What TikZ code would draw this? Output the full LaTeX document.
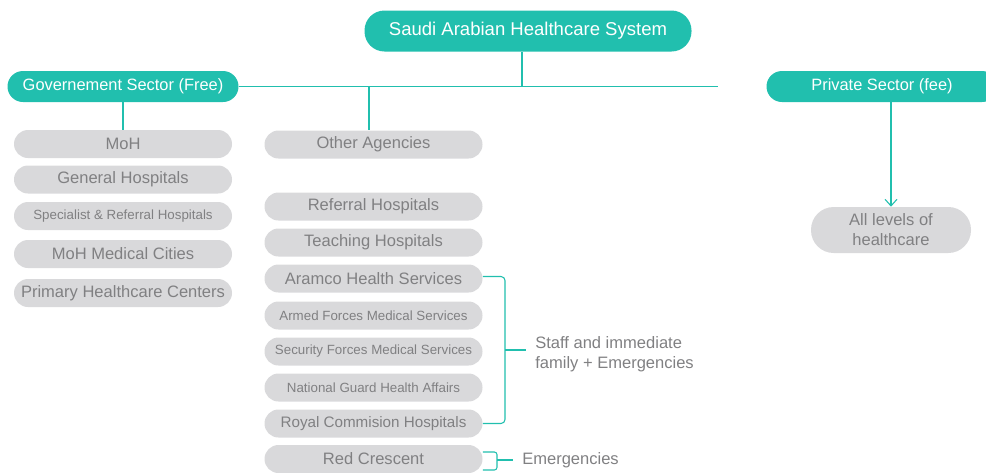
\documentclass[tikz,border=0pt]{standalone}
\usepackage{fontspec}
\setmainfont{Liberation Sans}
\usetikzlibrary{arrows.meta}
\definecolor{hcteal}{RGB}{33,191,174}
\definecolor{hcgrey}{RGB}{217,217,219}
\definecolor{hctext}{RGB}{128,128,130}
\begin{document}
\begin{tikzpicture}[x=0.75pt,y=-0.75pt]
            \tikzstyle{head}=[rounded corners=11.6pt, fill=hcteal, text=white, minimum width=173.25pt, minimum height=23.25pt, inner sep=0pt, font=\fontsize{12.3}{15}\selectfont]
            \tikzstyle{title}=[head, rounded corners=15pt, minimum width=245.25pt, minimum height=30.75pt, font=\fontsize{13.9}{16}\selectfont]
            \tikzstyle{unit}=[rounded corners=10.5pt, fill=hcgrey, text=hctext, minimum width=163.5pt, minimum height=21pt, inner sep=0pt, font=\fontsize{12.4}{15}\selectfont]
            \tikzstyle{smallunit}=[unit, font=\fontsize{10}{12}\selectfont]
            \tikzstyle{bigunit}=[unit, rounded corners=17pt, minimum width=120pt, minimum height=34.5pt, align=center]
            \tikzstyle{note}=[anchor=west, text=hctext, align=left, inner sep=0pt, font=\fontsize{12.4}{15}\selectfont]
            \tikzstyle{link}=[draw=hcteal, line width=0.8pt]
            \useasboundingbox (0,0) rectangle (986,472);
            \node[title] (sahs) at (528,31) {Saudi Arabian Healthcare System};
            \node[head] (gov) at (123,86.5) {Governement Sector (Free)};
            \node[head] (priv) at (882,86.5) {Private Sector (fee)};
            % ministry of health
            \node[unit] (moh) at (123,144) {MoH};
            \node[unit] (genhosp) at (123,179.5) {General Hospitals};
            \node[smallunit] (spec) at (123,216) {Specialist \& Referral Hospitals};
            \node[unit] (medcity) at (123,254) {MoH Medical Cities};
            \node[unit] (phc) at (123,293) {Primary Healthcare Centers};
            % other agencies
            \node[unit] (other) at (373.5,144.5) {Other Agencies};
            \node[unit] (referral) at (373.5,206.5) {Referral Hospitals};
            \node[unit] (teaching) at (373.5,242.5) {Teaching Hospitals};
            \node[unit] (aramco) at (373.5,278.5) {Aramco Health Services};
            \node[smallunit] (armed) at (373.5,315.5) {Armed Forces Medical Services};
            \node[smallunit] (security) at (373.5,351.5) {Security Forces Medical Services};
            \node[smallunit] (natguard) at (373.5,387.5) {National Guard Health Affairs};
            \node[unit, font=\fontsize{11.4}{14}\selectfont] (royal) at (373.5,423.5) {Royal Commision Hospitals};
            \node[unit] (redcres) at (373.5,459) {Red Crescent};
            % private
            \node[bigunit] (all) at (891,230) {All levels of\\healthcare};
            \coordinate (hub) at (522,86.5);
            \coordinate (hubend) at (718,86.5);
            \coordinate (split) at (369,86.5);
            \draw[link] (gov.east) -- (hubend);
            \draw[link] (sahs.south -| hub) -- (hub);
            \draw[link] (split) -- (split |- other.north);
            \draw[link] (gov.south) -- (moh.north);
            \draw[link, -{Straight Barb[length=5pt,width=9pt]}] (priv.south -| all.north) -- (all.north);
            % braces
            \coordinate (staffbrace) at (505,350);
            \coordinate (stafftip) at (526,350);
            \draw[link, rounded corners=3pt] ([yshift=1.5pt]aramco.east) -| (staffbrace) |- (royal.east);
            \draw[link] (staffbrace) -- (stafftip);
            \node[note] (staff) at (535,354) {Staff and immediate\\family + Emergencies};
            \coordinate (ercbrace) at (497,460);
            \coordinate (erctip) at (513,460);
            \draw[link, rounded corners=2pt] ([yshift=5.25pt]redcres.east) -| (ercbrace) |- ([yshift=-8.25pt]redcres.east);
            \draw[link] (ercbrace) -- (erctip);
            \node[note] (emerg) at (522,460) {Emergencies};
        \end{tikzpicture}
\end{document}
